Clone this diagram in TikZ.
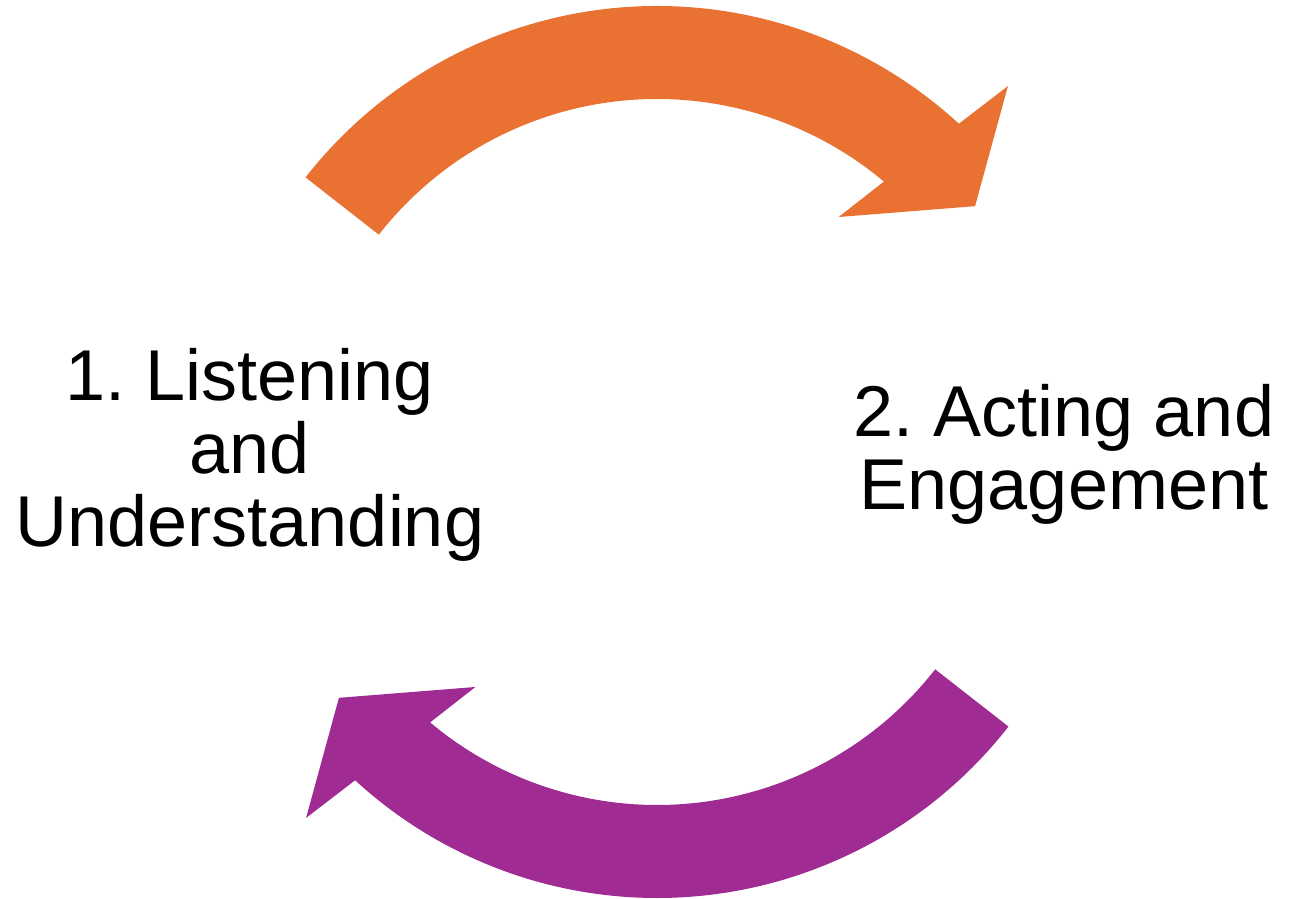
\documentclass[tikz,border=0pt]{standalone}
\usepackage{fontspec}
\setmainfont{Liberation Sans}
\frenchspacing
\definecolor{cycleorange}{HTML}{E97132}
\definecolor{cyclepurple}{HTML}{A02B93}
\begin{document}
\begin{tikzpicture}[x=1pt,y=1pt,
  bigtext/.style={align=center, inner sep=0pt, anchor=base,
    font=\fontsize{72}{73}\selectfont},
  cyclearrow/.style={draw=none}]
\useasboundingbox (0,0) rectangle (1298,899);
\coordinate (c) at (657,447);
\begin{scope}[shift={(c)}]
  % upper arrow, running clockwise from left to right
  \fill[cycleorange, cyclearrow] (142:446) arc[start angle=142, end angle=47.4, radius=446]
    -- (46.2:507) -- (37.7:402) -- (52.3:297) -- (50:353)
    arc[start angle=50, end angle=142, radius=353] -- cycle;
  % lower arrow, running clockwise from right to left
  \fill[cyclepurple, cyclearrow] (322:446) arc[start angle=322, end angle=227.4, radius=446]
    -- (226.2:507) -- (217.7:402) -- (232.3:297) -- (230:353)
    arc[start angle=230, end angle=322, radius=353] -- cycle;
\end{scope}
% labels: the base anchor sits on the last line's baseline
\node[bigtext] (listen) at (250,352) {1. Listening\\and\\Understanding};
\node[bigtext] (act) at (1064,389) {2. Acting and\\Engagement};
\end{tikzpicture}
\end{document}
